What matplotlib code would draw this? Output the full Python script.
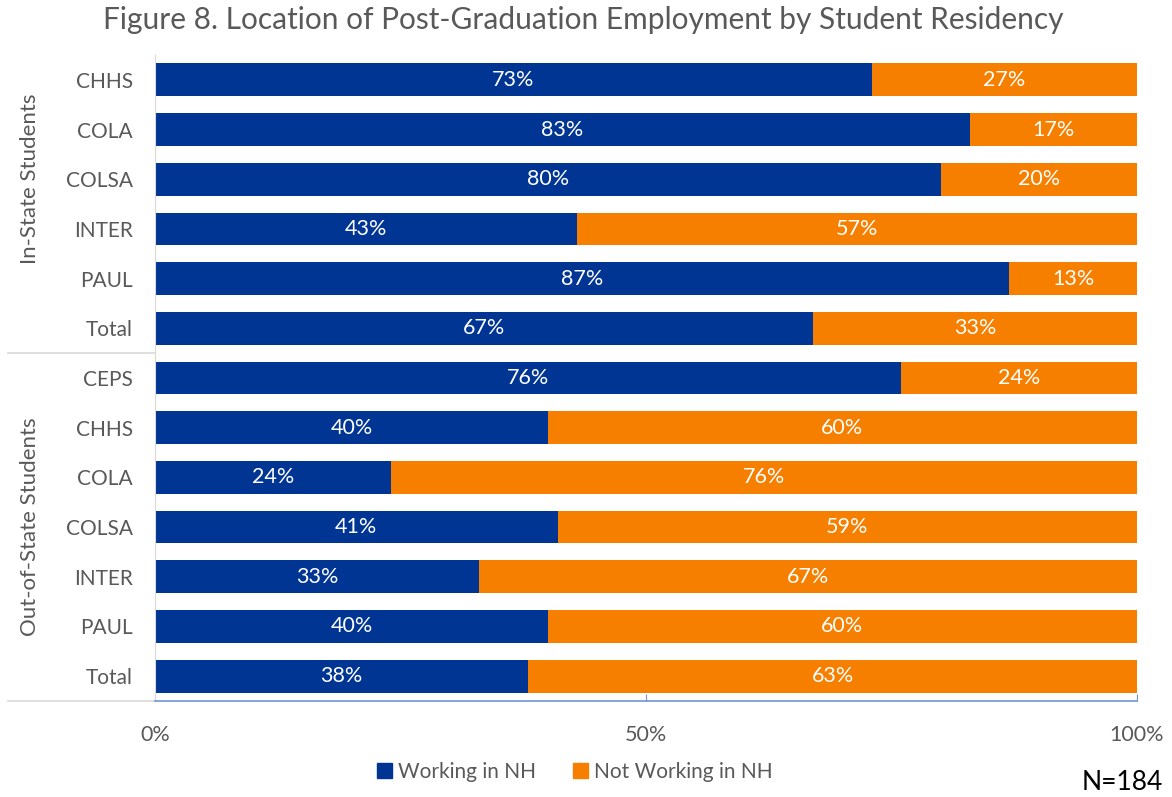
import matplotlib
matplotlib.use('Agg')
import matplotlib.pyplot as plt
import matplotlib.transforms as mtransforms
from matplotlib.patches import Patch

plt.rcParams['font.family'] = ['Lato', 'DejaVu Sans']

# data
colleges = ['CHHS', 'COLA', 'COLSA', 'INTER', 'PAUL', 'Total',
            'CEPS', 'CHHS', 'COLA', 'COLSA', 'INTER', 'PAUL', 'Total']
groups = ['In-State Students', 'Out-of-State Students']
group_sizes = [6, 7]
working_nh = [73, 83, 80, 43, 87, 67, 76, 40, 24, 41, 33, 40, 38]
not_working_nh = [27, 17, 20, 57, 13, 33, 24, 60, 76, 59, 67, 60, 63]
x_ticks = [0, 50, 100]

blue = '#003594'
orange = '#F77F00'
grey_txt = '#595959'

fig = plt.figure(figsize=(11.72, 7.97), dpi=100)
W, H = 1172, 797
ax = fig.add_axes([155 / W, 1 - 701 / H, 982 / W, (701 - 55) / H])

ypos = list(range(len(colleges)))
ax.barh(ypos, working_nh, height=0.66, color=blue, label='Working in NH')
ax.barh(ypos, not_working_nh, left=working_nh, height=0.66, color=orange,
        label='Not Working in NH')

for y, w, n in zip(ypos, working_nh, not_working_nh):
    ax.text(w / 2, y, f'{w}%', ha='center', va='center', color='white',
            fontsize=15.5)
    ax.text(w + (100 - w) / 2, y, f'{n}%', ha='center', va='center',
            color='white', fontsize=15.5)

ax.set_xlim(0, 100)
ax.set_ylim(len(colleges) - 0.5, -0.5)
ax.set_yticks(ypos)
ax.set_yticklabels(colleges, fontsize=15, color=grey_txt)
ax.tick_params(axis='y', length=0, pad=16)
ax.set_xticks(x_ticks)
ax.set_xticklabels([f'{t}%' for t in x_ticks], fontsize=15.5, color=grey_txt)
ax.tick_params(axis='x', direction='in', length=5, color='#6E95D2', pad=17)

for s in ['top', 'right']:
    ax.spines[s].set_visible(False)
ax.spines['left'].set_color('#D9D9D9')
ax.spines['bottom'].set_color('#6E95D2')
ax.spines['bottom'].set_linewidth(1.2)

# grouped category axis on the left
trans = mtransforms.blended_transform_factory(fig.transFigure, ax.transData)
start = 0
label_rows = [2.0, 9.0]
for g, size, ly in zip(groups, group_sizes, label_rows):
    end = start + size
    ax.plot([8 / W, 155 / W], [end - 0.5, end - 0.5], transform=trans,
            color='#D9D9D9', lw=1.2, clip_on=False)
    ax.text(30 / W, ly, g, transform=trans, rotation=90, ha='center',
            va='center', fontsize=16, color=grey_txt)
    start = end

fig.text(583 / W, 1 - 20 / H,
         'Figure 8. Location of Post-Graduation Employment by Student Residency',
         ha='center', va='center', fontsize=21.5, color=grey_txt)

handles = [Patch(color=blue, label='Working in NH'),
           Patch(color=orange, label='Not Working in NH')]
fig.legend(handles=handles, loc='center', bbox_to_anchor=(575 / W, 1 - 772 / H),
           ncol=2, frameon=False, fontsize=15, handlelength=0.7,
           handleheight=0.7, handletextpad=0.3, columnspacing=1.8,
           labelcolor=grey_txt)

fig.text(1163 / W, 1 - 783 / H, 'N=184', ha='right', va='center',
         fontsize=19, color='black')

fig.savefig('out.png', dpi=100)
